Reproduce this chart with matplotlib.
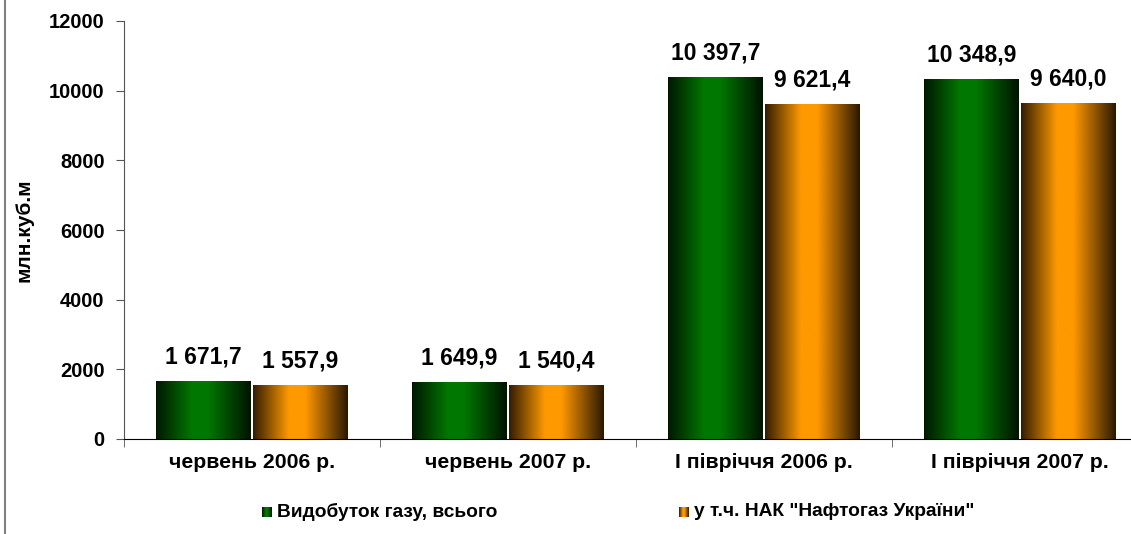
import matplotlib
matplotlib.use("Agg")
from matplotlib import pyplot as plt
from matplotlib.colors import LinearSegmentedColormap
from matplotlib.lines import Line2D
import numpy as np

plt.rcParams['font.family'] = ['Liberation Sans', 'DejaVu Sans']
plt.rcParams['font.weight'] = 'bold'

# дані
categories = ["червень 2006 р.", "червень 2007 р.", "І півріччя 2006 р.", "І півріччя 2007 р."]
total = [1671.7, 1649.9, 10397.7, 10348.9]
naftogaz = [1557.9, 1540.4, 9621.4, 9640.0]
total_labels = ["1 671,7", "1 649,9", "10 397,7", "10 348,9"]
naftogaz_labels = ["1 557,9", "1 540,4", "9 621,4", "9 640,0"]
series_names = ["Видобуток газу, всього", "у т.ч. НАК \"Нафтогаз України\""]

green_cmap = LinearSegmentedColormap.from_list(
    "g", [(0, "#001800"), (0.38, "#007800"), (0.55, "#007800"), (1, "#001200")])
orange_cmap = LinearSegmentedColormap.from_list(
    "o", [(0, "#341c00"), (0.38, "#ff9900"), (0.55, "#ff9900"), (1, "#2a1800")])
grad = np.linspace(0, 1, 256).reshape(1, -1)

fig = plt.figure(figsize=(11.31, 5.34), dpi=100)
ax = fig.add_axes([124 / 1131, 95 / 534, 1024 / 1131, 418 / 534])

x = np.arange(len(categories)) + 0.5
w = 0.371
gap = 0.004

bars1 = ax.bar(x - w / 2 - gap, total, w, facecolor="none", edgecolor="none")
bars2 = ax.bar(x + w / 2 + gap, naftogaz, w, facecolor="none", edgecolor="none")

for bars, cmap in [(bars1, green_cmap), (bars2, orange_cmap)]:
    for b in bars:
        x0 = b.get_x()
        im = ax.imshow(grad, extent=[x0, x0 + b.get_width(), 0, b.get_height()],
                       aspect="auto", cmap=cmap, zorder=2, interpolation="bilinear")
        im.set_clip_path(b)

for bars, labels in [(bars1, total_labels), (bars2, naftogaz_labels)]:
    for b, lab in zip(bars, labels):
        ax.annotate(lab, (b.get_x() + b.get_width() / 2, b.get_height()),
                    xytext=(0, 9), textcoords="offset points",
                    ha="center", va="bottom", fontsize=16.5, fontweight="bold")

ax.set_xlim(0, 4)
ax.set_ylim(0, 12000)
ax.set_yticks(range(0, 12001, 2000))
ax.set_xticks(x)
ax.set_xticklabels(categories)
ax.set_xticks(np.arange(0, 5), minor=True)
ax.tick_params(axis="x", which="major", length=0, pad=10, labelsize=15.3)
ax.tick_params(axis="x", which="minor", length=6, direction="out", color="#555555")
ax.tick_params(axis="y", length=6, direction="out", labelsize=14.5, pad=8, color="#555555")
for lab in ax.get_xticklabels() + ax.get_yticklabels():
    lab.set_fontweight("bold")
ax.spines["top"].set_visible(False)
ax.spines["right"].set_visible(False)
ax.spines["left"].set_color("#555555")
ax.spines["bottom"].set_color("#000000")
ax.set_ylabel("млн.куб.м", fontsize=15, fontweight="bold", labelpad=11)

# легенда
legend_items = [(262, series_names[0], green_cmap), (679, series_names[1], orange_cmap)]
for px, name, cmap in legend_items:
    lax = fig.add_axes([px / 1131, (534 - 517) / 534, 10 / 1131, 10 / 534])
    lax.imshow(grad, aspect="auto", cmap=cmap, extent=[0, 1, 0, 1])
    lax.set_axis_off()
    fig.text((px + 15) / 1131, (534 - 512) / 534, name, fontsize=13.8,
             fontweight="bold", va="center", ha="left")

fig.add_artist(Line2D([4.5 / 1131, 4.5 / 1131], [0, 1], transform=fig.transFigure,
                      color="#808080", linewidth=1.5))

plt.savefig("out.png", dpi=100)
